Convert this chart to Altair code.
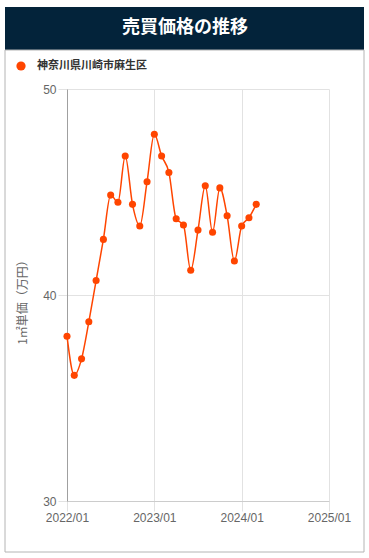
import altair as alt
import pandas as pd

# ---- data ----
months = [
    "2022/01", "2022/02", "2022/03", "2022/04", "2022/05", "2022/06",
    "2022/07", "2022/08", "2022/09", "2022/10", "2022/11", "2022/12",
    "2023/01", "2023/02", "2023/03", "2023/04", "2023/05", "2023/06",
    "2023/07", "2023/08", "2023/09", "2023/10", "2023/11", "2023/12",
    "2024/01", "2024/02", "2024/03",
]
prices = [
    38.0, 36.1, 36.9, 38.7, 40.7, 42.7,
    44.85, 44.5, 46.75, 44.4, 43.35, 45.5,
    47.8, 46.75, 45.95, 43.7, 43.4, 41.2,
    43.15, 45.3, 43.05, 45.2, 43.85, 41.65,
    43.35, 43.75, 44.4,
]
tick_labels = ["2022/01", "2023/01", "2024/01", "2025/01"]
y_ticks = [30, 40, 50]
series_name = "神奈川県川崎市麻生区"
chart_title = "売買価格の推移"
y_title = "1㎡単価（万円）"

def month_index(m):
    y, mo = m.split("/")
    return (int(y) - 2022) * 12 + int(mo) - 1

df = pd.DataFrame({
    "month": months,
    "idx": [month_index(m) for m in months],
    "price": prices,
})

tick_values = [month_index(t) for t in tick_labels]
label_expr = "[" + ",".join("'" + t + "'" for t in tick_labels) + "][round(datum.value/12)]"

JP = "Noto Sans CJK JP"
SANS = "Liberation Sans"
COLOR = "#ff4500"

one = pd.DataFrame({"a": [0]})

header = alt.Chart(one).mark_rect(color="#03233a").encode(
    x=alt.value(-62), x2=alt.value(297), y=alt.value(-82), y2=alt.value(-39)
)
card = alt.Chart(one).mark_rect(fill="white", fillOpacity=0, stroke="#b4b4b4", strokeWidth=1).encode(
    x=alt.value(-62), x2=alt.value(297), y=alt.value(-39), y2=alt.value(463)
)
title = alt.Chart(one).mark_text(
    text=chart_title, font=JP, fontSize=18, fontWeight="bold", color="white",
    align="center", baseline="middle"
).encode(x=alt.value(118), y=alt.value(-61))

legend_dot = alt.Chart(one).mark_point(
    shape="circle", filled=True, color=COLOR, size=85, opacity=1
).encode(x=alt.value(-46), y=alt.value(-23))
legend_text = alt.Chart(one).mark_text(
    text=series_name, font=JP, fontSize=11, fontWeight="bold", color="#333333",
    align="left", baseline="middle"
).encode(x=alt.value(-30), y=alt.value(-23))

x_enc = alt.X(
    "idx:Q",
    scale=alt.Scale(domain=[0, 36], nice=False, zero=False),
    axis=alt.Axis(
        values=tick_values, labelExpr=label_expr, title=None,
        grid=True, gridColor="#e2e2e2", domainColor="#cccccc",
        tickColor="#e2e2e2", tickSize=10, labelPadding=1,
        labelFlush=False, labelOverlap=False,
        labelFont=SANS, labelFontSize=12, labelColor="#666666",
    ),
)
y_enc = alt.Y(
    "price:Q",
    scale=alt.Scale(domain=[30, 50], nice=False, zero=False),
    axis=alt.Axis(
        values=y_ticks, title=y_title, titleFont=JP, titleFontSize=12,
        titleFontWeight="normal", titleColor="#666666",
        titleX=-45, titleY=210, titleBaseline="middle", titleAngle=270,
        grid=True, gridColor="#e2e2e2", domainColor="#a0a0a0",
        tickColor="#e2e2e2", tickSize=9, labelPadding=2,
        labelFlush=False,
        labelFont=SANS, labelFontSize=12, labelColor="#666666",
    ),
)

line = alt.Chart(df).mark_line(
    color=COLOR, strokeWidth=1.5, interpolate="monotone"
).encode(x=x_enc, y=y_enc)
points = alt.Chart(df).mark_point(
    shape="circle", filled=True, color=COLOR, size=50, opacity=1
).encode(x="idx:Q", y="price:Q")

chart = alt.layer(header, card, title, legend_dot, legend_text, line, points).properties(
    width=262, height=412,
    autosize=alt.AutoSizeParams(type="none"),
    padding={"left": 67, "top": 89, "right": 40, "bottom": 57},
    background="white",
).configure_view(strokeWidth=0)

chart.save("out.html", embed_options={"renderer": "svg", "actions": False})
